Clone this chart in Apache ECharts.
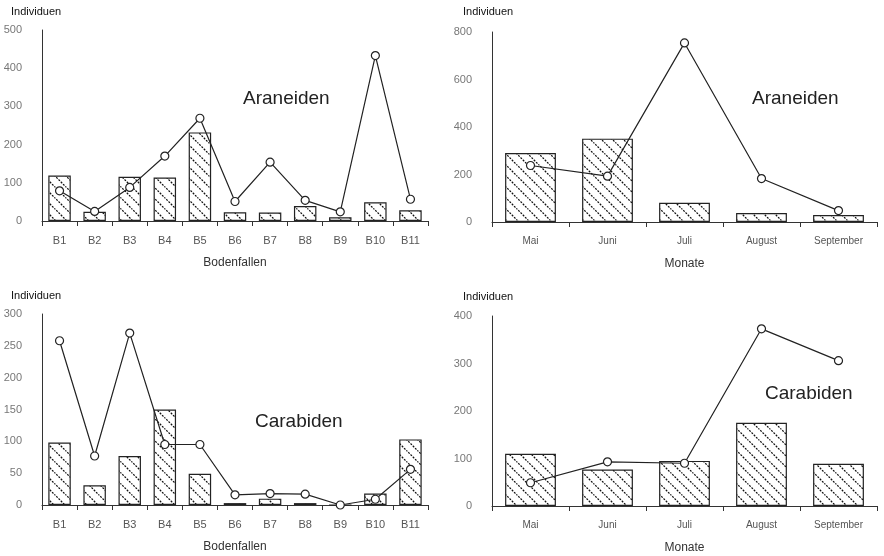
<!DOCTYPE html>
<html><head><meta charset="utf-8">
<script src="https://cdn.jsdelivr.net/npm/echarts@6/dist/echarts.min.js"></script>
<style>html,body{margin:0;padding:0;background:#fff}#c{width:884px;height:556px}</style>
</head><body><div id="c"></div>
<script>
// ---- data ----
const fallen = ['B1','B2','B3','B4','B5','B6','B7','B8','B9','B10','B11'];
const monate = ['Mai','Juni','Juli','August','September'];
const araFallenBar  = [119, 24, 116, 114, 232, 23, 22, 39, 10, 49, 28];
const araFallenLine = [79, 25, 88, 170, 269, 51, 154, 54, 24, 433, 57];
const araMonBar  = [290, 351, 81, 38, 29];
const araMonLine = [238, 193, 754, 183, 48];
const carFallenBar  = [98, 31, 77, 150, 49, 3, 10, 3, 0, 18, 103];
const carFallenLine = [258, 77, 270, 95, 95, 16, 18, 17, 0, 9, 56];
const carMonBar  = [110, 77, 95, 175, 89];
const carMonLine = [49, 93, 90, 373, 306];
const yTicks = {p1:[0,500,100], p2:[0,800,200], p3:[0,300,50], p4:[0,400,100]};

// ---- hatch pattern ----
function hatch(){
  const c = document.createElement('canvas');
  const s = 11; c.width = s; c.height = s;
  const g = c.getContext('2d');
  g.fillStyle = '#fff'; g.fillRect(0,0,s,s);
  g.strokeStyle = '#111'; g.lineWidth = 1.2;
  g.setLineDash([2,1.2]);
  g.beginPath();
  g.moveTo(-1,-1); g.lineTo(s+1,s+1);
  g.moveTo(-1,s-1); g.lineTo(1,s+1);
  g.moveTo(s-1,-1); g.lineTo(s+1,1);
  g.stroke();
  return c;
}
const pat = {image: hatch(), repeat: 'repeat'};

const chart = echarts.init(document.getElementById('c'));
const grids = [
  {left:42, right:456, top:30, bottom:335},
  {left:492, right:7, top:32, bottom:334},
  {left:42, right:456, top:314, bottom:51},
  {left:492, right:7, top:316, bottom:50}
];
const cats = [fallen, monate, fallen, monate];
const xNames = ['Bodenfallen','Monate','Bodenfallen','Monate'];
const ys = [yTicks.p1, yTicks.p2, yTicks.p3, yTicks.p4];
const bars = [araFallenBar, araMonBar, carFallenBar, carMonBar];
const lines = [araFallenLine, araMonLine, carFallenLine, carMonLine];
const font = 'Liberation Sans';

const xAxis = cats.map((c,i)=>({
  type:'category', gridIndex:i, data:c, boundaryGap:true,
  name:xNames[i], nameLocation:'middle', nameGap:36,
  nameTextStyle:{color:'#333', fontSize:12, fontFamily:font},
  axisLine:{lineStyle:{color:'#333', width:1}},
  axisTick:{show:true, alignWithLabel:false, length:5, lineStyle:{color:'#333'}},
  axisLabel:{color:'#555', fontSize:i%2?10:11, margin:14, fontFamily:font, interval:0}
}));
const yAxis = ys.map((y,i)=>({
  type:'value', gridIndex:i, min:y[0], max:y[1], interval:y[2],
  axisLine:{show:true, lineStyle:{color:'#333', width:1}},
  axisTick:{show:false}, splitLine:{show:false},
  axisLabel:{color:'#777', fontSize:11, margin:20, fontFamily:font}
}));
const series = [];
for(let i=0;i<4;i++){
  series.push({type:'bar', xAxisIndex:i, yAxisIndex:i, data:bars[i], barWidth: i%2?'66%':'64%',
    itemStyle:{color:pat, borderColor:'#222', borderWidth:1.2}, silent:true});
  series.push({type:'line', xAxisIndex:i, yAxisIndex:i, data:lines[i], symbol:'circle', symbolSize:8,
    itemStyle:{color:'#fff', borderColor:'#222', borderWidth:1.2},
    lineStyle:{color:'#222', width:1.2}, z:5});
}
const titles = [
  {text:'Individuen', left:6, top:1},
  {text:'Individuen', left:458, top:1},
  {text:'Individuen', left:6, top:285},
  {text:'Individuen', left:458, top:286},
].map(t=>Object.assign(t,{textStyle:{fontSize:11, fontWeight:'normal', color:'#111', fontFamily:font}}));
const labels = [
  {text:'Araneiden', left:238, top:84},
  {text:'Araneiden', left:747, top:84},
  {text:'Carabiden', left:250, top:407},
  {text:'Carabiden', left:760, top:379},
].map(t=>Object.assign(t,{textStyle:{fontSize:19, fontWeight:'normal', color:'#222', fontFamily:font}}));

chart.setOption({
  animation:false,
  backgroundColor:'#fff',
  title: titles.concat(labels),
  grid: grids,
  xAxis: xAxis, yAxis: yAxis, series: series
});
</script></body></html>
